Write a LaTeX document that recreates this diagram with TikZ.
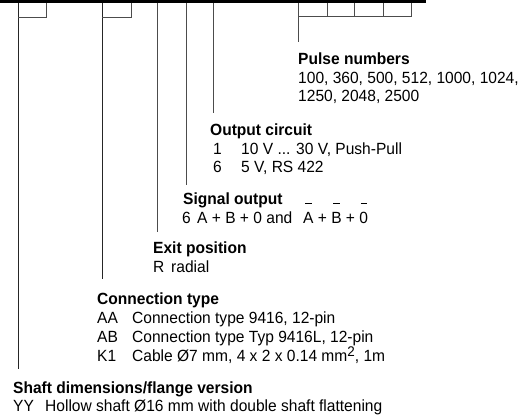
\documentclass[tikz,border=0pt]{standalone}
\usepackage{fontspec}
\setmainfont[FakeStretch=0.96]{Liberation Sans}
\newcommand\hibar[1]{\leavevmode\setbox0\hbox{#1}\rlap{\hbox to\wd0{\hss\rule[18.5pt]{0.65\wd0}{1.2pt}\hss}}\box0\relax}
\begin{document}
\begin{tikzpicture}[x=1pt,y=-1pt,
  ln/.style={draw=black!70,line width=0.9pt},
  lnd/.style={draw=black!85,line width=0.9pt},
  txt/.style={anchor=base west,inner sep=0pt,text=black,font=\fontsize{16.2}{18}\selectfont},
  hd/.style={txt,font=\fontsize{16.2}{18}\selectfont\bfseries}]
\useasboundingbox (0,0) rectangle (526,419);
\node[fill=black,inner sep=0pt,minimum width=426pt,minimum height=3.2pt,anchor=north west] (bar) at (0,0) {};
% connector coordinates
\coordinate (s0) at (18,3);   \coordinate (s1) at (18,369);
\coordinate (s2) at (46,3);   \coordinate (s3) at (46,17);  \coordinate (s4) at (18,17);
\coordinate (c0) at (102,3);  \coordinate (c1) at (102,279);
\coordinate (c2) at (131,3);  \coordinate (c3) at (131,17); \coordinate (c4) at (102,17);
\coordinate (e0) at (157,3);  \coordinate (e1) at (157,232);
\coordinate (g0) at (186,3);  \coordinate (g1) at (186,185);
\coordinate (o0) at (213,3);  \coordinate (o1) at (213,113);
\coordinate (p0) at (298,3);  \coordinate (p1) at (298,42);
\coordinate (pa) at (298,16); \coordinate (pb) at (411,16); \coordinate (pc) at (411,3);
\coordinate (d1t) at (327,3); \coordinate (d1b) at (327,16);
\coordinate (d2t) at (354,3); \coordinate (d2b) at (354,16);
\coordinate (d3t) at (383,3); \coordinate (d3b) at (383,16);
\draw[lnd] (s0) -- (s1);
\draw[ln] (s2) -- (s3) -- (s4);
\draw[lnd] (c0) -- (c1);
\draw[ln] (c2) -- (c3) -- (c4);
\draw[ln] (e0) -- (e1);
\draw[ln] (g0) -- (g1);
\draw[ln] (o0) -- (o1);
\draw[ln] (p0) -- (p1);
\draw[ln] (pa) -- (pb) -- (pc);
\draw[ln] (d1t) -- (d1b);
\draw[ln] (d2t) -- (d2b);
\draw[ln] (d3t) -- (d3b);
% Pulse numbers
\node[hd] (ph) at (298,65) {Pulse numbers};
\node[txt] (pl1) at (298,83.5) {100, 360, 500, 512, 1000, 1024,};
\node[txt] (pl2) at (298,102) {1250, 2048, 2500};
% Output circuit
\node[hd] (oh) at (210,136) {Output circuit};
\node[txt] (ok1) at (213,154.5) {1};
\node[txt] (ot1) at (241,154.5) {10 V ... 30 V, Push-Pull};
\node[txt] (ok2) at (213,173) {6};
\node[txt] (ot2) at (241,173) {5 V, RS 422};
% Signal output
\node[hd] (gh) at (183,204.5) {Signal output};
\node[txt] (gk1) at (182,223) {6};
\node[txt] (gt1) at (197,223) {A + B + 0 and};
\node[txt] (gt2) at (303,223) {\hibar{A} + \hibar{B} + \hibar{0}};
% Exit position
\node[hd] (eh) at (153,253.5) {Exit position};
\node[txt] (ek1) at (153,272) {R};
\node[txt] (et1) at (171,272) {radial};
% Connection type
\node[hd] (ch) at (97,304) {Connection type};
\node[txt] (ck1) at (97,323) {AA};
\node[txt] (ct1) at (132,323) {Connection type 9416, 12-pin};
\node[txt] (ck2) at (97,342) {AB};
\node[txt] (ct2) at (132,342) {Connection type Typ 9416L, 12-pin};
\node[txt] (ck3) at (97,361) {K1};
\node[txt] (ct3) at (132,361) {Cable Ø7 mm, 4 x 2 x 0.14 mm\raisebox{5pt}{\fontsize{14}{14}\selectfont 2}, 1m};
% Shaft
\node[hd] (sh) at (13,393) {Shaft dimensions/flange version};
\node[txt] (sk1) at (13,411.5) {YY};
\node[txt] (st1) at (45,411.5) {Hollow shaft Ø16 mm with double shaft flattening};
\end{tikzpicture}
\end{document}
